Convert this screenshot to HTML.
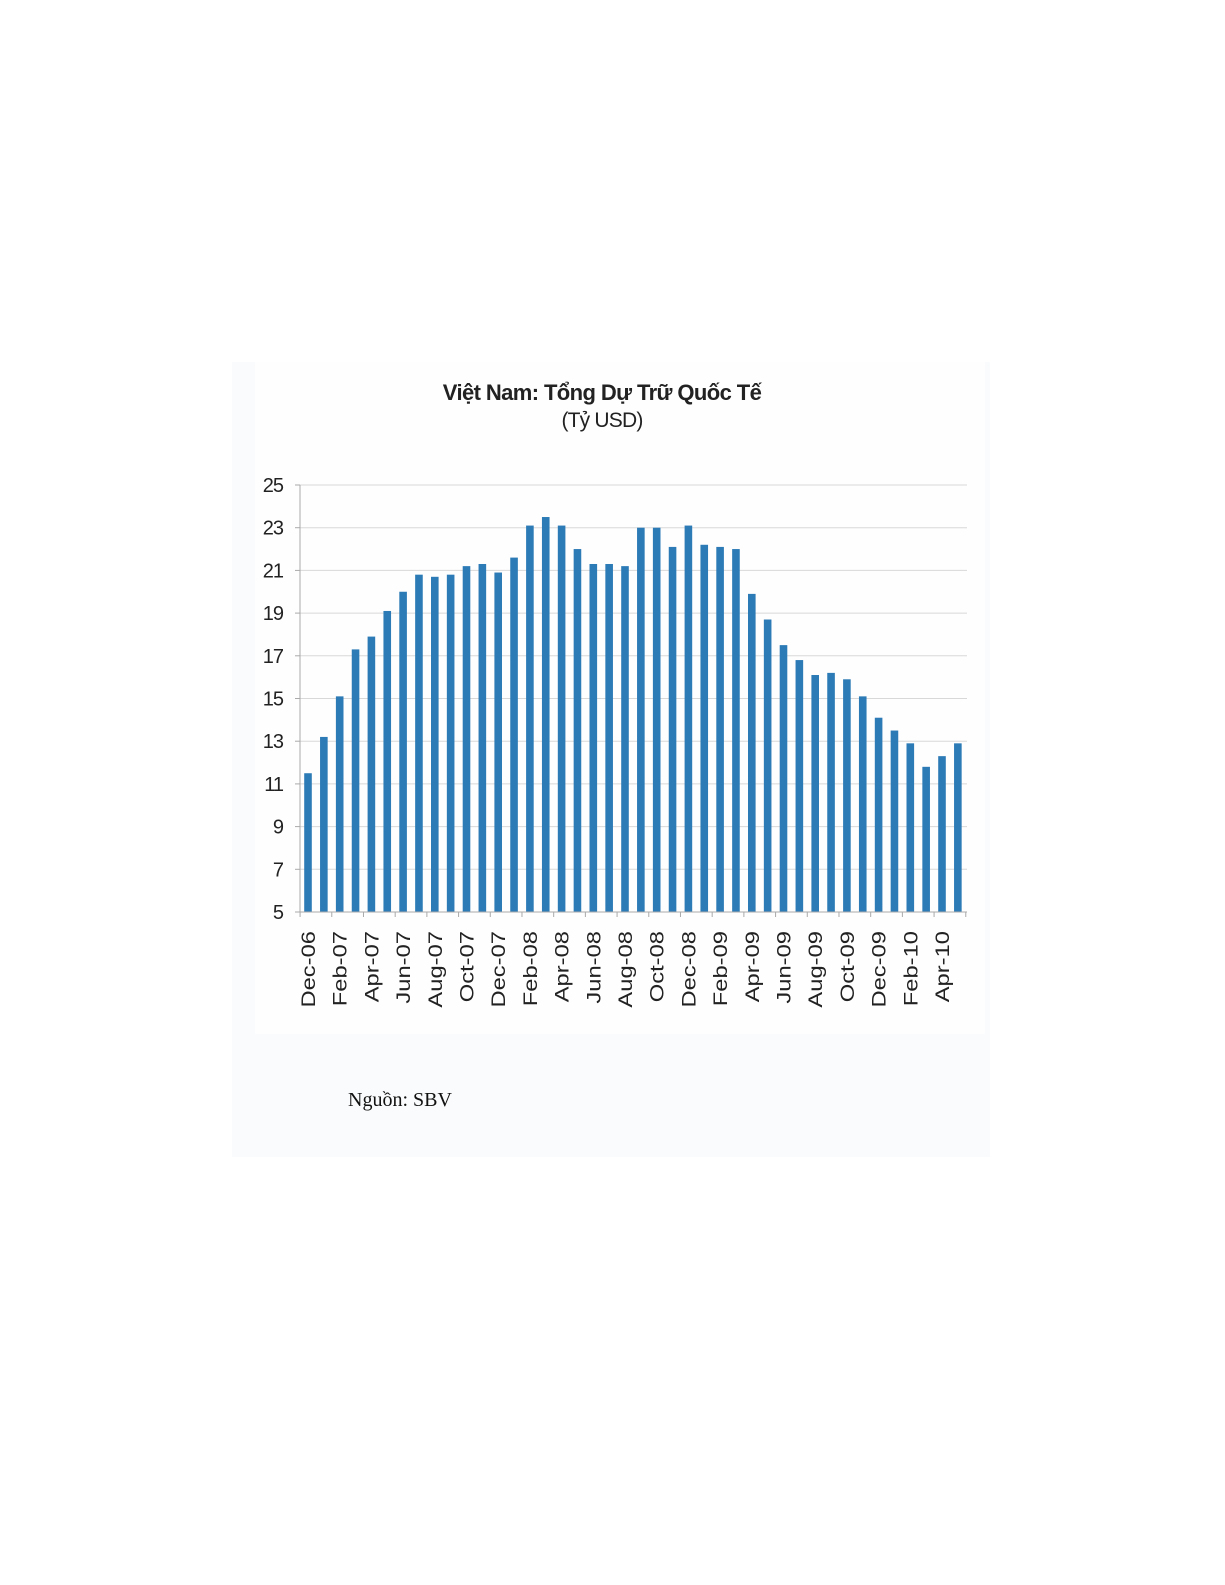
<!DOCTYPE html>
<html><head><meta charset="utf-8"><style>
html,body{margin:0;padding:0;background:#fff;}
body{width:1225px;height:1585px;position:relative;overflow:hidden;}
</style></head><body>
<svg width="1225" height="1585" xmlns="http://www.w3.org/2000/svg" style="position:absolute;left:0;top:0">
<rect x="232" y="362" width="758" height="795" fill="#fafbfc"/>
<rect x="255" y="362" width="730" height="672" fill="#fefefe"/>
<text x="602" y="400" text-anchor="middle" font-family="Liberation Sans, sans-serif" font-size="22" font-weight="bold" fill="#222" letter-spacing="-0.6">Việt Nam: Tổng Dự Trữ Quốc Tế</text>
<text x="602" y="427" text-anchor="middle" font-family="Liberation Sans, sans-serif" font-size="21" fill="#222" letter-spacing="-0.8">(Tỷ USD)</text>
<g id="grid" stroke="#d8d8d8" stroke-width="1"></g>
<g id="bars" fill="#2c7bb6"></g>
<g id="ylab" font-family="Liberation Sans, sans-serif" font-size="20" fill="#222" text-anchor="end" letter-spacing="-1"></g>
<g id="xlab" font-family="Liberation Sans, sans-serif" font-size="19" fill="#222" text-anchor="end"></g>
<line x1="300" y1="485" x2="300" y2="912" stroke="#aaa"/>
<line x1="300" y1="912" x2="967" y2="912" stroke="#aaa"/>
<g id="ticks" stroke="#aaa"></g>
<text x="348" y="1106" font-family="Liberation Serif, serif" font-size="20" fill="#111">Nguồn: SBV</text>
</svg>
<script>
const v=[11.5,13.2,15.1,17.3,17.9,19.1,20.0,20.8,20.7,20.8,21.2,21.3,20.9,21.6,23.1,23.5,23.1,22.0,21.3,21.3,21.2,23.0,23.0,22.1,23.1,22.2,22.1,22.0,19.9,18.7,17.5,16.8,16.1,16.2,15.9,15.1,14.1,13.5,12.9,11.8,12.3,12.9];
const labs=["Dec-06","Feb-07","Apr-07","Jun-07","Aug-07","Oct-07","Dec-07","Feb-08","Apr-08","Jun-08","Aug-08","Oct-08","Dec-08","Feb-09","Apr-09","Jun-09","Aug-09","Oct-09","Dec-09","Feb-10","Apr-10"];
const ns="http://www.w3.org/2000/svg";
const Y=x=>912-(x-5)*21.35;
function el(t,a,p,txt){const e=document.createElementNS(ns,t);for(const k in a)e.setAttribute(k,a[k]);if(txt)e.textContent=txt;document.getElementById(p).appendChild(e);}
for(let t=5;t<=25;t+=2){const y=Y(t);if(t>5)el('line',{x1:300,x2:967,y1:y,y2:y},'grid');el('line',{x1:295,x2:300,y1:y,y2:y},'ticks');el('text',{x:283,y:y+7},'ylab',String(t));}
const x0=308,dx=15.85;
v.forEach((d,i)=>{const x=x0+i*dx;el('rect',{x:x-3.8,y:Y(d),width:7.6,height:912-Y(d)},'bars');});
for(let i=0;i<=42;i+=2){const x=x0-dx/2+i*dx;el('line',{x1:x,x2:x,y1:912,y2:917},'ticks');}
labs.forEach((l,i)=>{const x=x0+2*i*dx+7;el('text',{x:0,y:0,transform:`translate(${x},931) rotate(-90) scale(1.25,1)`},'xlab',l);});
</script>
</body></html>
